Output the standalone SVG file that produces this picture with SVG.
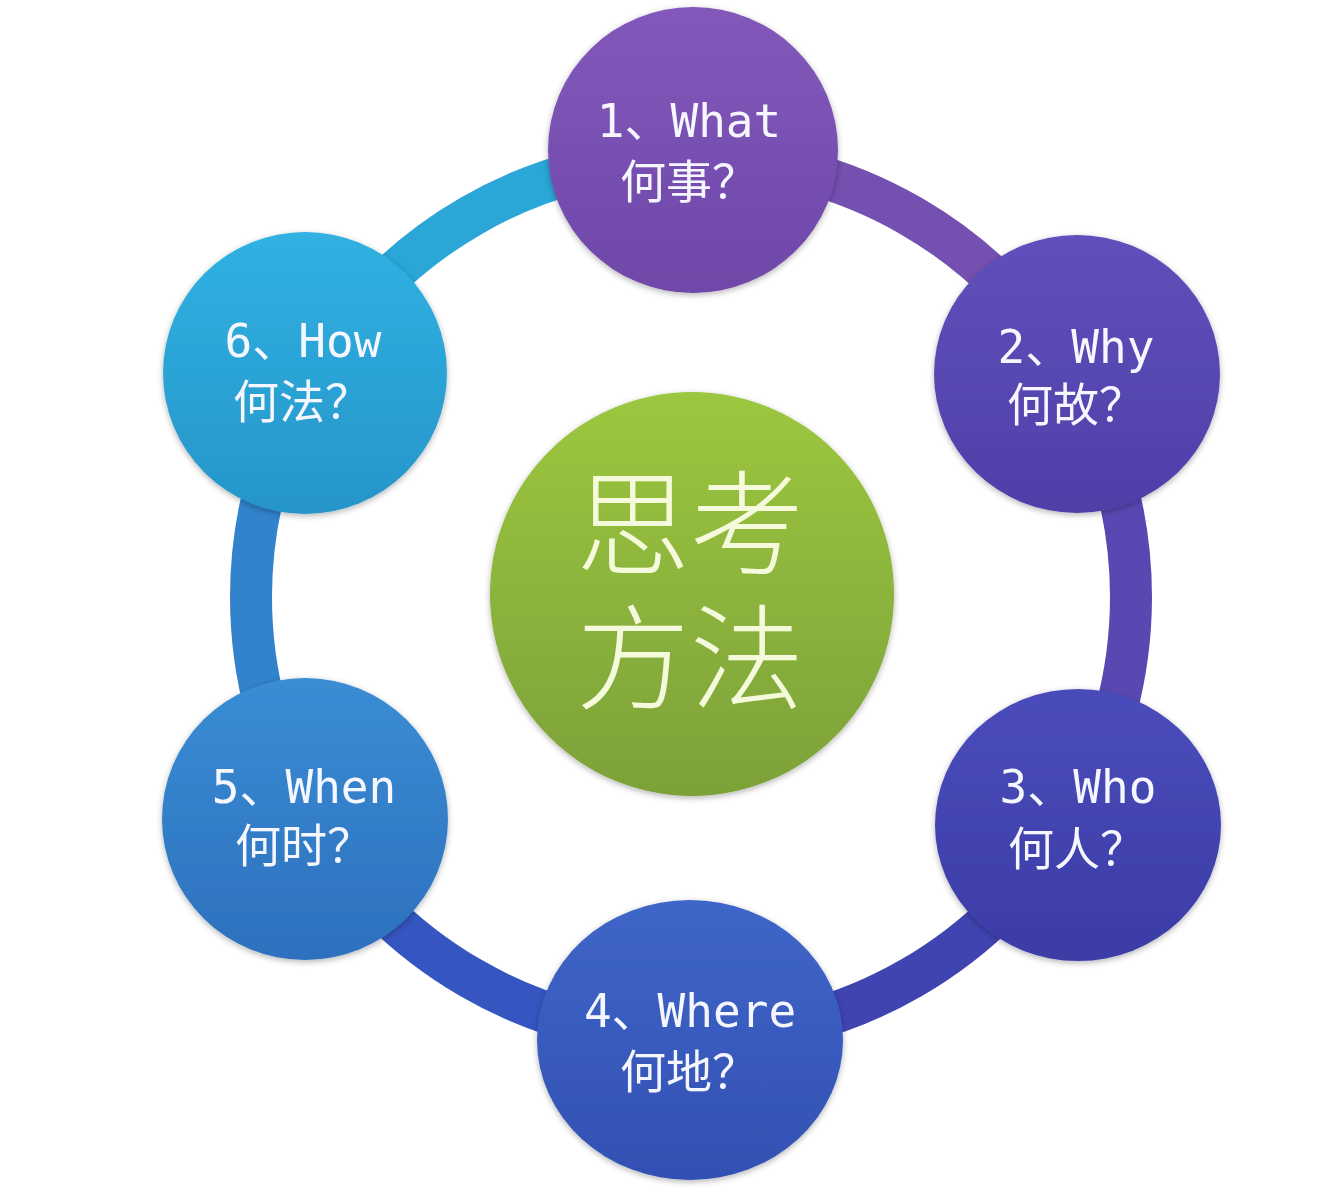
<svg xmlns="http://www.w3.org/2000/svg" width="1327" height="1200" viewBox="0 0 1327 1200">
  <defs>
    <style>
      .ring { fill: none; stroke-width: 42; stroke-linecap: butt; }
      .lbl { font-family: "DejaVu Sans Mono", "Noto Sans CJK SC", monospace; font-size: 46px; fill: #f6f6ff; text-anchor: middle; }
      .cjk { font-family: "Noto Sans CJK SC", sans-serif; font-size: 46px; fill: #f6f6ff; text-anchor: middle; }
      .big { font-family: "Noto Sans CJK SC", "Noto Sans", sans-serif; font-size: 114px; font-weight: 300; fill: #f4fadb; text-anchor: middle; }
    </style>
    <filter id="sh" x="-20%" y="-20%" width="140%" height="140%">
      <feGaussianBlur in="SourceAlpha" stdDeviation="3"/>
      <feOffset dx="0" dy="2" result="b"/>
      <feComponentTransfer><feFuncA type="linear" slope="0.3"/></feComponentTransfer>
      <feMerge><feMergeNode/><feMergeNode in="SourceGraphic"/></feMerge>
    </filter>
    <linearGradient id="g1" x1="0" y1="0" x2="0" y2="1"><stop offset="0" stop-color="#8259bb"/><stop offset="1" stop-color="#6e47a8"/></linearGradient>
    <linearGradient id="g2" x1="0" y1="0" x2="0" y2="1"><stop offset="0" stop-color="#5f50bb"/><stop offset="1" stop-color="#4f3fa8"/></linearGradient>
    <linearGradient id="g3" x1="0" y1="0" x2="0" y2="1"><stop offset="0" stop-color="#4a4cbb"/><stop offset="1" stop-color="#3c3ca6"/></linearGradient>
    <linearGradient id="g4" x1="0" y1="0" x2="0" y2="1"><stop offset="0" stop-color="#3e66c8"/><stop offset="1" stop-color="#3350b3"/></linearGradient>
    <linearGradient id="g5" x1="0" y1="0" x2="0" y2="1"><stop offset="0" stop-color="#3a8dd4"/><stop offset="1" stop-color="#2d70be"/></linearGradient>
    <linearGradient id="g6" x1="0" y1="0" x2="0" y2="1"><stop offset="0" stop-color="#30b1e2"/><stop offset="1" stop-color="#2795c9"/></linearGradient>
    <linearGradient id="gc" x1="0" y1="0" x2="0" y2="1"><stop offset="0" stop-color="#9cc73f"/><stop offset="1" stop-color="#7ca139"/></linearGradient>
  </defs>
  <rect width="1327" height="1200" fill="#ffffff"/>

  <g id="connectors">
    <path class="ring" stroke="#2aa6d7" d="M 309.95 377 A 440 440 0 0 1 691 157"/>
    <path class="ring" stroke="#7450b1" d="M 691 157 A 440 440 0 0 1 1072.05 377"/>
    <path class="ring" stroke="#5848b2" d="M 1072.05 377 A 440 440 0 0 1 1072.05 817"/>
    <path class="ring" stroke="#4044b1" d="M 1072.05 817 A 440 440 0 0 1 691 1037"/>
    <path class="ring" stroke="#3556c0" d="M 691 1037 A 440 440 0 0 1 309.95 817"/>
    <path class="ring" stroke="#3282cc" d="M 309.95 817 A 440 440 0 0 1 309.95 377"/>
  </g>

  <g id="center" filter="url(#sh)">
    <circle cx="692" cy="594" r="202" fill="url(#gc)"/>
    <text class="big"><tspan x="690" y="566">思考</tspan><tspan x="690" y="700">方法</tspan></text>
  </g>

  <g id="node1" filter="url(#sh)">
    <ellipse cx="693" cy="150" rx="145" ry="143" fill="url(#g1)"/>
    <text class="lbl" x="689" y="137">1、What</text>
    <text class="cjk" x="689" y="198">何事？</text>
  </g>
  <g id="node2" filter="url(#sh)">
    <ellipse cx="1077" cy="374" rx="143" ry="139" fill="url(#g2)"/>
    <text class="lbl" x="1076" y="363">2、Why</text>
    <text class="cjk" x="1076" y="421">何故？</text>
  </g>
  <g id="node3" filter="url(#sh)">
    <ellipse cx="1078" cy="825" rx="143" ry="136" fill="url(#g3)"/>
    <text class="lbl" x="1078" y="803">3、Who</text>
    <text class="cjk" x="1077" y="865">何人？</text>
  </g>
  <g id="node4" filter="url(#sh)">
    <ellipse cx="690" cy="1040" rx="153" ry="140" fill="url(#g4)"/>
    <text class="lbl" x="690" y="1027">4、Where</text>
    <text class="cjk" x="689" y="1088">何地？</text>
  </g>
  <g id="node5" filter="url(#sh)">
    <ellipse cx="305" cy="819" rx="143" ry="141" fill="url(#g5)"/>
    <text class="lbl" x="304" y="803">5、When</text>
    <text class="cjk" x="304" y="862">何时？</text>
  </g>
  <g id="node6" filter="url(#sh)">
    <ellipse cx="305" cy="373" rx="142" ry="141" fill="url(#g6)"/>
    <text class="lbl" x="303" y="357">6、How</text>
    <text class="cjk" x="302" y="418">何法？</text>
  </g>
</svg>
